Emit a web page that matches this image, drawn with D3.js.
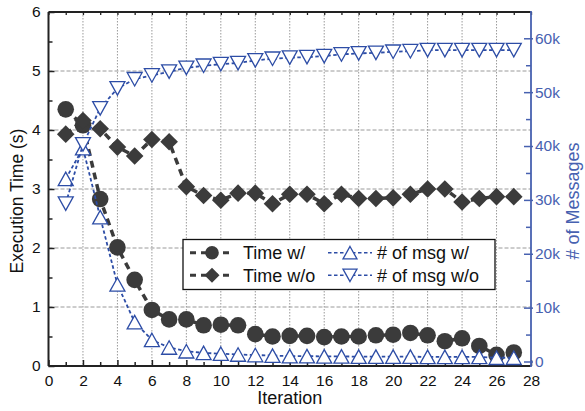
<!DOCTYPE html>
<html>
<head>
<meta charset="utf-8">
<script src="https://cdnjs.cloudflare.com/ajax/libs/d3/7.8.5/d3.min.js"></script>
<style>
  body { margin: 0; background: #fff; }
  svg { display: block; font-family: Arial, "Liberation Sans", sans-serif; }
</style>
</head>
<body>
<div id="chart"></div>
<script>
// values
var iterations = [1,2,3,4,5,6,7,8,9,10,11,12,13,14,15,16,17,18,19,20,21,22,23,24,25,26,27];
var timeW  = [4.35,4.08,2.83,2.01,1.46,0.95,0.79,0.79,0.69,0.70,0.69,0.54,0.50,0.51,0.51,0.49,0.50,0.50,0.52,0.53,0.56,0.52,0.42,0.47,0.34,0.19,0.23];
var timeWo = [3.93,4.16,4.02,3.71,3.56,3.84,3.80,3.04,2.89,2.81,2.93,2.93,2.75,2.91,2.91,2.75,2.91,2.84,2.84,2.85,2.91,3.00,3.00,2.78,2.84,2.87,2.87];
var msgW   = [33900,39600,26800,14300,7300,4000,2600,1900,1600,1450,1300,1200,1100,1000,1000,950,950,900,900,900,900,850,850,850,850,700,700];
var msgWo  = [29300,40300,47000,50700,52400,53100,53800,54500,54900,55200,55400,55900,56200,56400,56500,56700,57000,57200,57300,57500,57600,57800,57800,57800,57800,57800,57800];

var xTicks = [0,2,4,6,8,10,12,14,16,18,20,22,24,26,28];
var yTicks = [0,1,2,3,4,5,6];
var msgTicks = [0,10000,20000,30000,40000,50000,60000];
var msgTickLabels = ['0','10k','20k','30k','40k','50k','60k'];
var legendNames = ['Time w/','Time w/o','# of msg w/','# of msg w/o'];

var W = 585, H = 411;
var pL = 48.5, pR = 531, pT = 12, pB = 366;
var dark = '#3b3b3b', blue = '#2d4da6', axisBlue = '#4761b0';

var svg = d3.select('#chart').append('svg')
  .attr('width', W)
  .attr('height', H);

var x = d3.scaleLinear().domain([0, 28]).range([pL, pR]);
var y = d3.scaleLinear().domain([0, 6]).range([pB, pT]);
var y2 = d3.scaleLinear().domain([-835, 64880]).range([pB, pT]);

// grid
svg.append('g').selectAll('line')
  .data(xTicks.slice(1, -1))
  .enter().append('line')
  .attr('x1', function(d){ return x(d); }).attr('x2', function(d){ return x(d); })
  .attr('y1', pT).attr('y2', pB)
  .attr('stroke', '#9a9a9a').attr('stroke-width', 1).attr('stroke-dasharray', '1.5,1.5');
svg.append('g').selectAll('line')
  .data(yTicks.slice(1, -1))
  .enter().append('line')
  .attr('x1', pL).attr('x2', pR)
  .attr('y1', function(d){ return y(d); }).attr('y2', function(d){ return y(d); })
  .attr('stroke', '#9a9a9a').attr('stroke-width', 1).attr('stroke-dasharray', '4,2');

// axes
var xAxis = d3.axisBottom(x).tickValues(d3.range(0, 29, 1)).tickSize(-5)
  .tickFormat(function(d){ return d % 2 === 0 ? d : ''; }).tickPadding(9);
var gx = svg.append('g').attr('transform', 'translate(0,' + pB + ')').call(xAxis);
gx.selectAll('.tick line').attr('y2', function(d){ return d % 2 === 0 ? -6 : -4; });

var topAxis = d3.axisTop(x).tickValues(d3.range(0, 29, 1)).tickSize(-3).tickFormat('');
var gt = svg.append('g').attr('transform', 'translate(0,' + pT + ')').call(topAxis);
gt.selectAll('.tick line').attr('stroke', '#222').attr('stroke-width', 1.3);

var yAxis = d3.axisLeft(y).tickValues(d3.range(0, 6.01, 0.5)).tickSize(-6)
  .tickFormat(function(d){ return d % 1 === 0 ? d : ''; }).tickPadding(8);
var gy = svg.append('g').attr('transform', 'translate(' + pL + ',0)').call(yAxis);
gy.selectAll('.tick line').attr('x2', function(d){ return d % 1 === 0 ? 6 : 4; });

var yAxis2 = d3.axisRight(y2).tickValues(d3.range(0, 60001, 5000)).tickSize(-6)
  .tickFormat(function(d){ var i = msgTicks.indexOf(d); return i >= 0 ? msgTickLabels[i] : ''; })
  .tickPadding(10);
var gy2 = svg.append('g').attr('transform', 'translate(' + pR + ',0)').call(yAxis2);
gy2.selectAll('.tick line')
  .attr('x1', function(d){ return d % 10000 === 0 ? 2 : 0; })
  .attr('x2', function(d){ return d % 10000 === 0 ? -7 : -5; });

[gx, gy].forEach(function(g){
  g.selectAll('.tick line').attr('stroke', '#222').attr('stroke-width', 1.5);
  g.selectAll('text').attr('fill', '#111').style('font-size', '15.5px');
});
gy2.selectAll('.tick line').attr('stroke', axisBlue).attr('stroke-width', 1.5);
gy2.selectAll('text').attr('fill', axisBlue).style('font-size', '15.5px').attr('x', 4);
svg.selectAll('.domain').remove();

// frame
svg.append('line').attr('x1', pL).attr('x2', pR).attr('y1', pT).attr('y2', pT)
  .attr('stroke', '#222').attr('stroke-width', 2);
svg.append('line').attr('x1', pL).attr('x2', pR).attr('y1', pB).attr('y2', pB)
  .attr('stroke', '#222').attr('stroke-width', 2);
svg.append('line').attr('x1', pL).attr('x2', pL).attr('y1', pT).attr('y2', pB)
  .attr('stroke', '#222').attr('stroke-width', 2);
svg.append('line').attr('x1', pR).attr('x2', pR).attr('y1', pT - 1).attr('y2', pB + 1)
  .attr('stroke', axisBlue).attr('stroke-width', 1.8);

// series
var plot = svg.append('g');

function triPath(up, w, h) {
  var hw = w / 2, hh = h / 2;
  return up ? 'M0,' + (-hh) + 'L' + hw + ',' + hh + 'L' + (-hw) + ',' + hh + 'Z'
            : 'M0,' + hh + 'L' + hw + ',' + (-hh) + 'L' + (-hw) + ',' + (-hh) + 'Z';
}
function diamondPath(r) {
  return 'M0,' + (-r) + 'L' + r + ',0L0,' + r + 'L' + (-r) + ',0Z';
}

function drawSeries(vals, ys, color, dash, lw, marker) {
  var pts = iterations.map(function(it, i){ return [x(it), ys(vals[i])]; });
  plot.append('path')
    .attr('d', d3.line()(pts))
    .attr('fill', 'none').attr('stroke', color)
    .attr('stroke-width', lw).attr('stroke-dasharray', dash);
  var g = plot.append('g');
  pts.forEach(function(p){
    if (marker === 'circle') {
      g.append('circle').attr('cx', p[0]).attr('cy', p[1]).attr('r', 8.3).attr('fill', dark);
    } else if (marker === 'diamond') {
      g.append('path').attr('d', diamondPath(8.8)).attr('fill', dark)
        .attr('transform', 'translate(' + p[0] + ',' + p[1] + ')');
    } else {
      g.append('path').attr('d', triPath(marker === 'up', 15, 13.5))
        .attr('fill', '#fff').attr('stroke', color).attr('stroke-width', 1.3)
        .attr('transform', 'translate(' + p[0] + ',' + p[1] + ')');
    }
  });
}

drawSeries(timeW, y, dark, '7,5', 3.5, 'circle');
drawSeries(timeWo, y, dark, '7,5', 3.5, 'diamond');
drawSeries(msgW, y2, blue, '3.5,2.5', 1.8, 'up');
drawSeries(msgWo, y2, blue, '3.5,2.5', 1.8, 'down');

// legend
var lg = svg.append('g');
lg.append('rect').attr('x', 183).attr('y', 239.5).attr('width', 312).attr('height', 50)
  .attr('fill', '#fff').attr('stroke', '#111').attr('stroke-width', 1.3);
var legendItems = [
  {name: legendNames[0], cx: 212, cy: 252.7, marker: 'circle'},
  {name: legendNames[1], cx: 212, cy: 275.3, marker: 'diamond'},
  {name: legendNames[2], cx: 350, cy: 252.7, marker: 'up'},
  {name: legendNames[3], cx: 350, cy: 275.3, marker: 'down'}
];
legendItems.forEach(function(d){
  var isBlue = d.marker === 'up' || d.marker === 'down';
  lg.append('line').attr('x1', d.cx - 22).attr('x2', d.cx + 22)
    .attr('y1', d.cy).attr('y2', d.cy)
    .attr('stroke', isBlue ? blue : dark)
    .attr('stroke-width', isBlue ? 1.6 : 3)
    .attr('stroke-dasharray', isBlue ? '3.5,2.5' : '6,5');
  if (d.marker === 'circle') {
    lg.append('circle').attr('cx', d.cx).attr('cy', d.cy).attr('r', 6.8).attr('fill', dark);
  } else if (d.marker === 'diamond') {
    lg.append('path').attr('d', diamondPath(7.5)).attr('fill', dark)
      .attr('transform', 'translate(' + d.cx + ',' + d.cy + ')');
  } else {
    lg.append('path').attr('d', triPath(d.marker === 'up', 14, 12.5))
      .attr('fill', '#fff').attr('stroke', blue).attr('stroke-width', 1.3)
      .attr('transform', 'translate(' + d.cx + ',' + d.cy + ')');
  }
  lg.append('text').attr('x', d.cx + (isBlue ? 27 : 31)).attr('y', d.cy + 6.5)
    .style('font-size', '18px').attr('fill', '#111').text(d.name);
});

// titles
svg.append('text').attr('x', (pL + pR) / 2).attr('y', 404)
  .attr('text-anchor', 'middle').style('font-size', '18px').attr('fill', '#111')
  .text('Iteration');
svg.append('text').attr('transform', 'translate(23,201) rotate(-90)')
  .attr('text-anchor', 'middle').style('font-size', '17.5px').attr('fill', '#111')
  .text('Execution Time (s)');
svg.append('text').attr('transform', 'translate(579,201) rotate(-90)')
  .attr('text-anchor', 'middle').style('font-size', '18px').attr('fill', axisBlue)
  .text('# of Messages');
</script>
</body>
</html>
